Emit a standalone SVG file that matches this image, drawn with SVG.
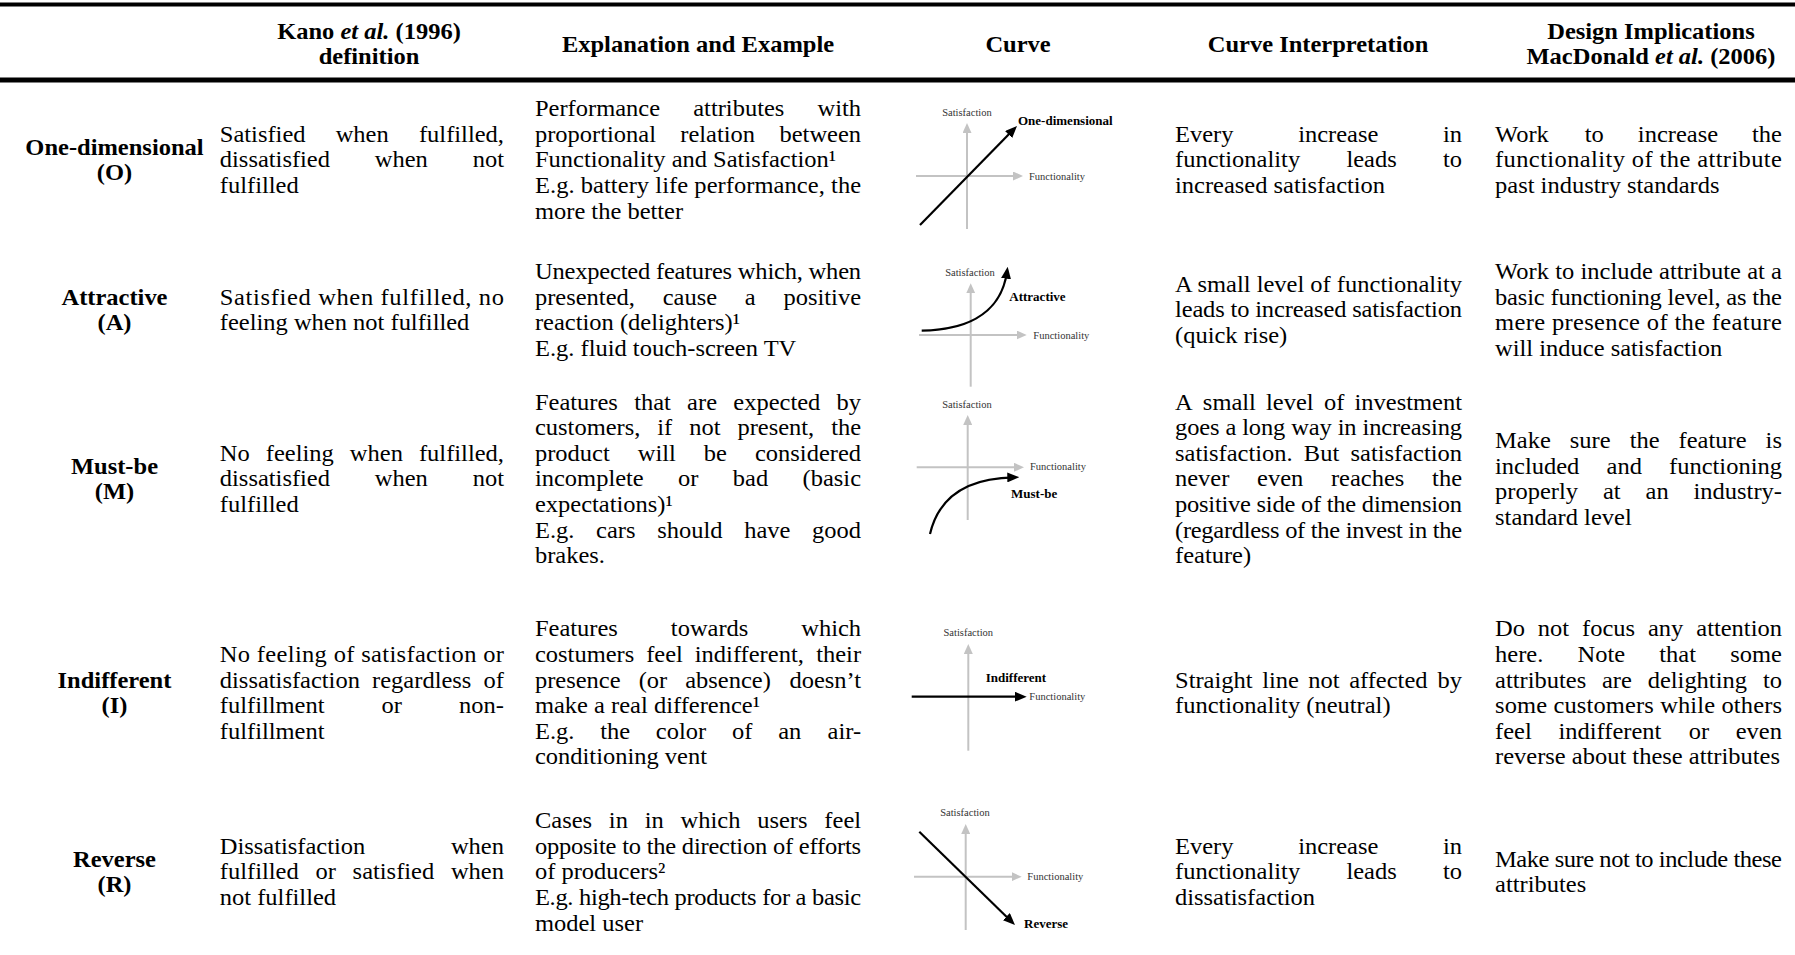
<svg xmlns="http://www.w3.org/2000/svg" width="1795" height="955" viewBox="0 0 1795 955">
<style>
  .t { font-family: "Liberation Serif", "Times New Roman", serif; font-size: 23px; fill: #000; }
  .b { font-weight: bold; }
  .c { text-anchor: middle; }
  .e { text-anchor: end; }
  .i { font-style: italic; }
  .rule { fill: #000; }
  .ax { stroke: #c3c3c3; stroke-width: 2; fill: none; marker-end: url(#headGray); }
  .cv { stroke: #000; stroke-width: 2.2; fill: none; marker-end: url(#headBlack); }
  .sm { font-family: "Liberation Serif", "Times New Roman", serif; font-size: 10.5px; fill: #333; }
  .lb { font-family: "Liberation Serif", "Times New Roman", serif; font-size: 13px; font-weight: bold; fill: #000; }
</style>
<defs>
  <marker id="headGray" viewBox="0 0 10 9" refX="5" refY="4.5" markerWidth="10" markerHeight="9" markerUnits="userSpaceOnUse" orient="auto">
    <path d="M0,0 L10,4.5 L0,9 Z" fill="#c3c3c3"/>
  </marker>
  <marker id="headBlack" viewBox="0 0 12 10" refX="7" refY="5" markerWidth="12" markerHeight="10" markerUnits="userSpaceOnUse" orient="auto">
    <path d="M0,0 L12,5 L0,10 Z" fill="#000"/>
  </marker>
</defs>
<rect width="1795" height="955" fill="#fff"/>

<!-- table rules -->
<g id="rules">
  <rect class="rule" x="0" y="2.5" width="1795" height="4"/>
  <rect class="rule" x="0" y="77.5" width="1795" height="5"/>
</g>

<!-- column headings -->
<g id="header" class="t b" transform="scale(1.065 1)">
  <text class="c" x="346.5" y="39.5">Kano <tspan class="i">et al.</tspan> (1996)</text>
  <text class="c" x="346.5" y="64.5">definition</text>
  <text class="c" x="655.4" y="52">Explanation and Example</text>
  <text class="c" x="955.9" y="52">Curve</text>
  <text class="c" x="1237.6" y="52">Curve Interpretation</text>
  <text class="c" x="1550.2" y="39.5">Design Implications</text>
  <text class="c" x="1550.2" y="64.5">MacDonald <tspan class="i">et al.</tspan> (2006)</text>
</g>

<!-- One-dimensional -->
<g id="row-one-dimensional">
  <g class="t" transform="scale(1.065 1)">
    <text class="b c" x="107.5" y="154.7">One-dimensional</text>
    <text class="b c" x="107.5" y="180.3">(O)</text>

    <text x="206.4" y="141.9">Satisfied</text><text class="c" x="340.1" y="141.9">when</text><text class="e" x="473.2" y="141.9">fulfilled,</text>
    <text x="206.4" y="167.5">dissatisfied</text><text class="c" x="376.85" y="167.5">when</text><text class="e" x="473.2" y="167.5">not</text>
    <text x="206.4" y="193.1">fulfilled</text>

    <text x="502.3" y="116.3">Performance</text><text class="c" x="693.7" y="116.3">attributes</text><text class="e" x="808.5" y="116.3">with</text>
    <text x="502.3" y="141.9">proportional</text><text class="c" x="673.9" y="141.9">relation</text><text class="e" x="808.5" y="141.9">between</text>
    <text x="502.3" y="167.5">Functionality and Satisfaction¹</text>
    <text x="502.3" y="193.1" textLength="306.2">E.g. battery life performance, the</text>
    <text x="502.3" y="218.7">more the better</text>

    <text x="1103.3" y="141.9">Every</text><text class="c" x="1256.6" y="141.9">increase</text><text class="e" x="1372.8" y="141.9">in</text>
    <text x="1103.3" y="167.5">functionality</text><text class="c" x="1287.9" y="167.5">leads</text><text class="e" x="1372.8" y="167.5">to</text>
    <text x="1103.3" y="193.1">increased satisfaction</text>

    <text x="1403.8" y="141.9">Work</text><text x="1488.1" y="141.9">to</text><text x="1537.9" y="141.9">increase</text><text class="e" x="1673.2" y="141.9">the</text>
    <text x="1403.8" y="167.5" textLength="269.4">functionality of the attribute</text>
    <text x="1403.8" y="193.1">past industry standards</text>
  </g>
  <g id="curve-one-dimensional">
    <path class="ax" d="M967,229 L967,128"/>
    <path class="ax" d="M916,176 L1018,176"/>
    <path class="cv" d="M920,225 L1013.5,129.6"/>
    <text class="sm c" x="967" y="116">Satisfaction</text>
    <text class="sm" x="1029" y="180">Functionality</text>
    <text class="lb" x="1018" y="125">One-dimensional</text>
  </g>
</g>

<!-- Attractive -->
<g id="row-attractive">
  <g class="t" transform="scale(1.065 1)">
    <text class="b c" x="107.5" y="304.7">Attractive</text>
    <text class="b c" x="107.5" y="330.3">(A)</text>

    <text x="206.4" y="304.7" textLength="266.8">Satisfied when fulfilled, no</text>
    <text x="206.4" y="330.3">feeling when not fulfilled</text>

    <text x="502.3" y="279.1" textLength="306.2">Unexpected features which, when</text>
    <text x="502.3" y="304.7">presented,</text><text x="622.3" y="304.7">cause</text><text x="699.4" y="304.7">a</text><text class="e" x="808.5" y="304.7">positive</text>
    <text x="502.3" y="330.3">reaction (delighters)¹</text>
    <text x="502.3" y="355.9">E.g. fluid touch-screen TV</text>

    <text x="1103.3" y="291.9" textLength="269.5">A small level of functionality</text>
    <text x="1103.3" y="317.5" textLength="269.5">leads to increased satisfaction</text>
    <text x="1103.3" y="343.1">(quick rise)</text>

    <text x="1403.8" y="279.1" textLength="269.4">Work to include attribute at a</text>
    <text x="1403.8" y="304.7" textLength="269.4">basic functioning level, as the</text>
    <text x="1403.8" y="330.3" textLength="269.4">mere presence of the feature</text>
    <text x="1403.8" y="355.9">will induce satisfaction</text>
  </g>
  <g id="curve-attractive">
    <path class="ax" d="M970.7,386.7 L970.7,288.3"/>
    <path class="ax" d="M919,335 L1021.7,335"/>
    <path class="cv" d="M921.7,330.7 C960,330 1000.5,318 1007,271.7"/>
    <text class="sm c" x="970" y="276">Satisfaction</text>
    <text class="sm" x="1033.3" y="338.5">Functionality</text>
    <text class="lb" x="1009.3" y="300.7">Attractive</text>
  </g>
</g>

<!-- Must-be -->
<g id="row-must-be">
  <g class="t" transform="scale(1.065 1)">
    <text class="b c" x="107.5" y="473.7">Must-be</text>
    <text class="b c" x="107.5" y="499.3">(M)</text>

    <text x="206.4" y="460.9">No</text><text x="249.55" y="460.9">feeling</text><text x="328.5" y="460.9">when</text><text class="e" x="473.2" y="460.9">fulfilled,</text>
    <text x="206.4" y="486.5">dissatisfied</text><text class="c" x="376.85" y="486.5">when</text><text class="e" x="473.2" y="486.5">not</text>
    <text x="206.4" y="512.1">fulfilled</text>

    <text x="502.3" y="409.7">Features</text><text x="595.5" y="409.7">that</text><text x="645.2" y="409.7">are</text><text x="688.6" y="409.7">expected</text><text class="e" x="808.5" y="409.7">by</text>
    <text x="502.3" y="435.3">customers,</text><text x="617.2" y="435.3">if</text><text x="647.1" y="435.3">not</text><text x="692.4" y="435.3">present,</text><text class="e" x="808.5" y="435.3">the</text>
    <text x="502.3" y="460.9">product</text><text x="598.8" y="460.9">will</text><text x="660.9" y="460.9">be</text><text class="e" x="808.5" y="460.9">considered</text>
    <text x="502.3" y="486.5">incomplete</text><text x="636.7" y="486.5">or</text><text x="688.1" y="486.5">bad</text><text class="e" x="808.5" y="486.5">(basic</text>
    <text x="502.3" y="512.1">expectations)¹</text>
    <text x="502.3" y="537.7">E.g.</text><text x="559.7" y="537.7">cars</text><text x="617.1" y="537.7">should</text><text x="698.8" y="537.7">have</text><text class="e" x="808.5" y="537.7">good</text>
    <text x="502.3" y="563.3">brakes.</text>

    <text x="1103.3" y="409.7">A</text><text x="1129.45" y="409.7">small</text><text x="1188.8" y="409.7">level</text><text x="1243.1" y="409.7">of</text><text class="e" x="1372.8" y="409.7">investment</text>
    <text x="1103.3" y="435.3" textLength="269.5">goes a long way in increasing</text>
    <text x="1103.3" y="460.9">satisfaction.</text><text class="c" x="1240.9" y="460.9">But</text><text class="e" x="1372.8" y="460.9">satisfaction</text>
    <text x="1103.3" y="486.5">never</text><text x="1180.35" y="486.5">even</text><text x="1249.7" y="486.5">reaches</text><text class="e" x="1372.8" y="486.5">the</text>
    <text x="1103.3" y="512.1" textLength="269.5">positive side of the dimension</text>
    <text x="1103.3" y="537.7" textLength="269.5">(regardless of the invest in the</text>
    <text x="1103.3" y="563.3">feature)</text>

    <text x="1403.8" y="448.1">Make</text><text x="1474" y="448.1">sure</text><text x="1530.2" y="448.1">the</text><text x="1576.15" y="448.1">feature</text><text class="e" x="1673.2" y="448.1">is</text>
    <text x="1403.8" y="473.7">included</text><text class="c" x="1525.1" y="473.7">and</text><text class="e" x="1673.2" y="473.7">functioning</text>
    <text x="1403.8" y="499.3">properly</text><text x="1505.1" y="499.3">at</text><text x="1545.1" y="499.3">an</text><text class="e" x="1673.2" y="499.3">industry-</text>
    <text x="1403.8" y="524.9">standard level</text>
  </g>
  <g id="curve-must-be">
    <path class="ax" d="M967.7,520 L967.7,420"/>
    <path class="ax" d="M916.7,467.3 L1019,467.3"/>
    <path class="cv" d="M930,534 C938,500 962,478 1014.3,477.3"/>
    <text class="sm c" x="967" y="408">Satisfaction</text>
    <text class="sm" x="1030" y="470">Functionality</text>
    <text class="lb" x="1011" y="498.3">Must-be</text>
  </g>
</g>

<!-- Indifferent -->
<g id="row-indifferent">
  <g class="t" transform="scale(1.065 1)">
    <text class="b c" x="107.5" y="687.7">Indifferent</text>
    <text class="b c" x="107.5" y="713.3">(I)</text>

    <text x="206.4" y="662.1" textLength="266.8">No feeling of satisfaction or</text>
    <text x="206.4" y="687.7">dissatisfaction</text><text class="c" x="396" y="687.7">regardless</text><text class="e" x="473.2" y="687.7">of</text>
    <text x="206.4" y="713.3">fulfillment</text><text class="c" x="367.9" y="713.3">or</text><text class="e" x="473.2" y="713.3">non-</text>
    <text x="206.4" y="738.9">fulfillment</text>

    <text x="502.3" y="636.5">Features</text><text class="c" x="666.3" y="636.5">towards</text><text class="e" x="808.5" y="636.5">which</text>
    <text x="502.3" y="662.1">costumers</text><text x="606.7" y="662.1">feel</text><text x="652.4" y="662.1">indifferent,</text><text class="e" x="808.5" y="662.1">their</text>
    <text x="502.3" y="687.7">presence</text><text x="599.7" y="687.7">(or</text><text x="643.4" y="687.7">absence)</text><text class="e" x="808.5" y="687.7">doesn’t</text>
    <text x="502.3" y="713.3">make a real difference¹</text>
    <text x="502.3" y="738.9">E.g.</text><text x="563.55" y="738.9">the</text><text x="615.85" y="738.9">color</text><text x="687.3" y="738.9">of</text><text x="730.7" y="738.9">an</text><text class="e" x="808.5" y="738.9">air-</text>
    <text x="502.3" y="764.5">conditioning vent</text>

    <text x="1103.3" y="687.7">Straight</text><text x="1185.1" y="687.7">line</text><text x="1228.5" y="687.7">not</text><text x="1266.8" y="687.7">affected</text><text class="e" x="1372.8" y="687.7">by</text>
    <text x="1103.3" y="713.3">functionality (neutral)</text>

    <text x="1403.8" y="636.5">Do</text><text x="1444" y="636.5">not</text><text x="1485.5" y="636.5">focus</text><text x="1547.4" y="636.5">any</text><text class="e" x="1673.2" y="636.5">attention</text>
    <text x="1403.8" y="662.1">here.</text><text x="1481.2" y="662.1">Note</text><text x="1558" y="662.1">that</text><text class="e" x="1673.2" y="662.1">some</text>
    <text x="1403.8" y="687.7">attributes</text><text x="1504.2" y="687.7">are</text><text x="1547.1" y="687.7">delighting</text><text class="e" x="1673.2" y="687.7">to</text>
    <text x="1403.8" y="713.3" textLength="269.4">some customers while others</text>
    <text x="1403.8" y="738.9">feel</text><text x="1463.4" y="738.9">indifferent</text><text x="1585.6" y="738.9">or</text><text class="e" x="1673.2" y="738.9">even</text>
    <text x="1403.8" y="764.5">reverse about these attributes</text>
  </g>
  <g id="curve-indifferent">
    <path class="ax" d="M968.3,750.7 L968.3,649"/>
    <path class="cv" d="M911.7,696.7 L1021.7,696.7"/>
    <text class="sm c" x="968.3" y="636">Satisfaction</text>
    <text class="sm" x="1029.3" y="700">Functionality</text>
    <text class="lb" x="985.7" y="682">Indifferent</text>
  </g>
</g>

<!-- Reverse -->
<g id="row-reverse">
  <g class="t" transform="scale(1.065 1)">
    <text class="b c" x="107.5" y="866.7">Reverse</text>
    <text class="b c" x="107.5" y="892.3">(R)</text>

    <text x="206.4" y="853.9">Dissatisfaction</text><text class="e" x="473.2" y="853.9">when</text>
    <text x="206.4" y="879.5">fulfilled</text><text x="296.2" y="879.5">or</text><text x="331.1" y="879.5">satisfied</text><text class="e" x="473.2" y="879.5">when</text>
    <text x="206.4" y="905.1">not fulfilled</text>

    <text x="502.3" y="828.3">Cases</text><text x="571.7" y="828.3">in</text><text x="605.4" y="828.3">in</text><text x="639" y="828.3">which</text><text x="711" y="828.3">users</text><text class="e" x="808.5" y="828.3">feel</text>
    <text x="502.3" y="853.9" textLength="306.2">opposite to the direction of efforts</text>
    <text x="502.3" y="879.5">of producers²</text>
    <text x="502.3" y="905.1" textLength="306.2">E.g. high-tech products for a basic</text>
    <text x="502.3" y="930.7">model user</text>

    <text x="1103.3" y="853.9">Every</text><text class="c" x="1256.6" y="853.9">increase</text><text class="e" x="1372.8" y="853.9">in</text>
    <text x="1103.3" y="879.5">functionality</text><text class="c" x="1287.9" y="879.5">leads</text><text class="e" x="1372.8" y="879.5">to</text>
    <text x="1103.3" y="905.1">dissatisfaction</text>

    <text x="1403.8" y="866.7" textLength="269.4">Make sure not to include these</text>
    <text x="1403.8" y="892.3">attributes</text>
  </g>
  <g id="curve-reverse">
    <path class="ax" d="M965.7,930 L965.7,829"/>
    <path class="ax" d="M914,876.7 L1016.7,876.7"/>
    <path class="cv" d="M919.3,831.7 L1011.4,921.5"/>
    <text class="sm c" x="965" y="816">Satisfaction</text>
    <text class="sm" x="1027.3" y="880">Functionality</text>
    <text class="lb" x="1024" y="928">Reverse</text>
  </g>
</g>
</svg>
